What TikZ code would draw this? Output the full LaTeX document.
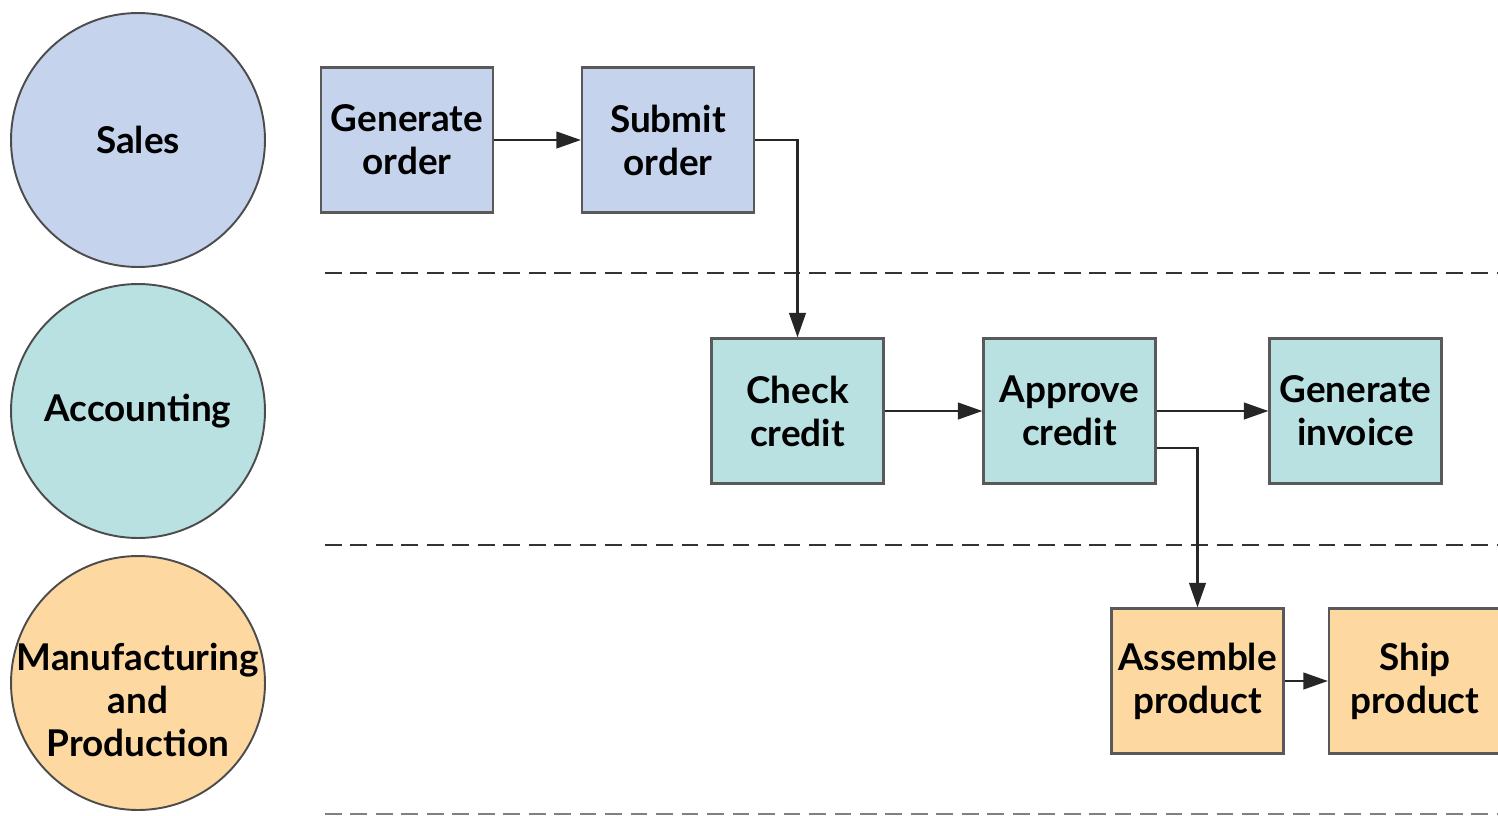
\documentclass[tikz,border=0pt]{standalone}
\usepackage{fontspec}
\setmainfont{Lato}
\usetikzlibrary{arrows.meta}

\definecolor{salesblue}{HTML}{C5D3EC}
\definecolor{acctteal}{HTML}{B9E1E2}
\definecolor{mfgorange}{HTML}{FDD8A0}

\tikzset{
    lane/.style={circle, draw=black!70, line width=1.1pt, minimum size=5.08cm, inner sep=0pt, align=center, font=\bfseries\fontsize{21}{24.5}\selectfont},
    task/.style={rectangle, draw=black!65, line width=1.3pt, minimum width=3.44cm, minimum height=2.9cm, inner sep=0pt, align=center, font=\bfseries\fontsize{21}{24.5}\selectfont},
    flow/.style={-{Triangle[length=14pt,width=9.5pt]}, line width=1.3pt, black!85},
    lanesep/.style={dash pattern=on 9.5pt off 5pt, line width=1.3pt, black!80}
}

\begin{document}
\begin{tikzpicture}[x=0.02cm, y=-0.02cm]
        \useasboundingbox (0,0) rectangle (1498,815);

        % swimlane labels
        \node[lane, fill=salesblue] (sales) at (138,140) {\raisebox{-2pt}{Sales}};
        \node[lane, fill=acctteal] (accounting) at (138,411) {Accounting};
        \node[lane, fill=mfgorange, label={[align=center, font=\bfseries\fontsize{21}{24.5}\selectfont, yshift=-0.34cm]center:Manufacturing\\and\\Production}] (manufacturing) at (138,683) {};

        % lane separators
        \draw[lanesep] (325,273) -- (1498,273);
        \draw[lanesep] (325,545) -- (1498,545);
        \draw[lanesep, black!50] (325,814) -- (1498,814);

        % sales tasks
        \node[task, fill=salesblue] (genorder) at (407,140) {Generate\\order};
        \node[task, fill=salesblue] (submit) at (668,140) {Submit\\order};

        % accounting tasks
        \node[task, fill=acctteal] (check) at (797.5,411) {Check\\credit};
        \node[task, fill=acctteal] (approve) at (1069.5,411) {Approve\\credit};
        \node[task, fill=acctteal] (invoice) at (1355.5,411) {Generate\\invoice};

        % manufacturing tasks
        \node[task, fill=mfgorange] (assemble) at (1197.5,681) {Assemble\\product};
        \node[task, fill=mfgorange] (ship) at (1415,681) {Ship\\product};

        \draw[flow] (genorder) -- (submit);
        \draw[flow] (submit.east) -| (check.north);
        \draw[flow] (check) -- (approve);
        \draw[flow] (approve) -- (invoice);
        \draw[flow] ([yshift=-0.74cm]approve.east) -| (assemble.north);
        \draw[flow] (assemble) -- (ship);
    \end{tikzpicture}
\end{document}
